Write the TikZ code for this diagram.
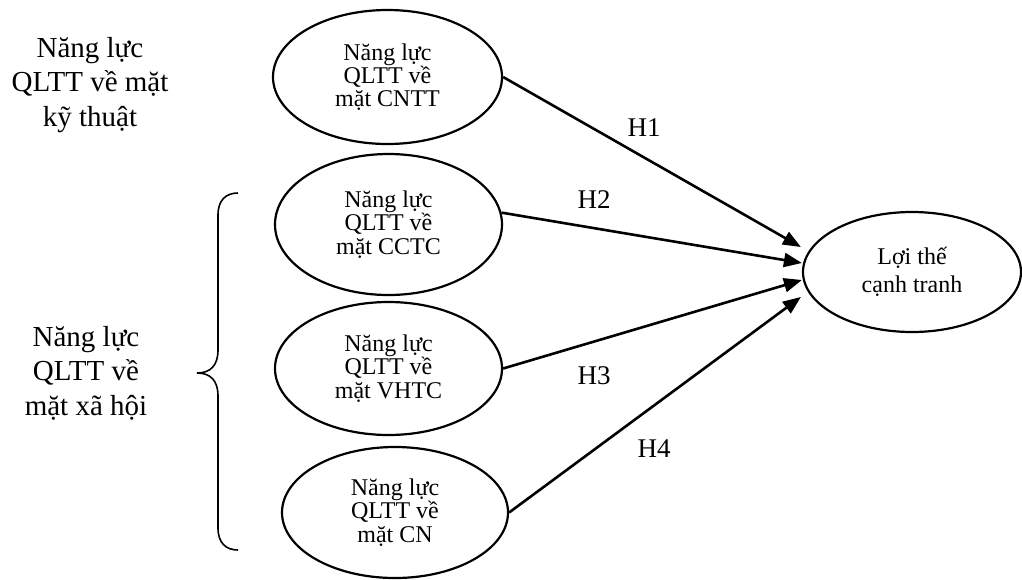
\documentclass[tikz,border=0pt]{standalone}
\usepackage{fontspec}
\setmainfont{Liberation Serif}
\usetikzlibrary{shapes.geometric,arrows.meta,calc}
\begin{document}
\begin{tikzpicture}[x=0.5pt,y=-0.5pt,
  ell/.style={draw,ellipse,line width=1.1pt,inner sep=0pt,align=center,font=\fontsize{12}{11.6}\selectfont},
  arr/.style={line width=1.3pt,-{Triangle[length=9pt,width=7pt]}},
  hlab/.style={font=\fontsize{13.5}{16}\selectfont,inner sep=0pt},
  side/.style={align=center,font=\fontsize{14.5}{17.25}\selectfont,inner sep=0pt}]
\useasboundingbox (0,0) rectangle (1022,579);

\node[ell,minimum width=114.5pt,minimum height=67pt] (E1) at (387.5,77) {Năng lực\\QLTT về\\mặt CNTT};
\node[ell,minimum width=113.5pt,minimum height=70.5pt] (E2) at (388.5,224.5) {Năng lực\\QLTT về\\mặt CCTC};
\node[ell,minimum width=113.5pt,minimum height=66.5pt] (E3) at (388.5,368.5) {Năng lực\\QLTT về\\mặt VHTC};
\node[ell,minimum width=113pt,minimum height=65.5pt] (E4) at (395,512.5) {Năng lực\\QLTT về\\mặt CN};
\node[ell,minimum width=109pt,minimum height=60pt,font=\fontsize{12}{13.8}\selectfont] (E5) at (912,272) {Lợi thế\\cạnh tranh};

\node[side] (L1) at (90,85) {Năng lực\\QLTT về mặt\\kỹ thuật};
\node[side] (L2) at (86,373) {Năng lực\\QLTT về\\mặt xã hội};

\coordinate (t1) at ($(E5.west)+(-1,-25)$);
\coordinate (t2) at ($(E5.west)+(0,-9)$);
\coordinate (t3) at ($(E5.west)+(0,8)$);
\coordinate (t4) at ($(E5.west)+(-1,25)$);

\draw[arr] (E1.east) -- (t1);
\draw[arr] (E2.6.5) -- (t2);
\draw[arr] (E3.east) -- (t3);
\draw[arr] (E4.east) -- (t4);

\node[hlab] (h1) at (644,128) {H1};
\node[hlab] (h2) at (594,200) {H2};
\node[hlab] (h3) at (594,376) {H3};
\node[hlab] (h4) at (654,449) {H4};

\draw[line width=0.8pt] (238,193) .. controls (226,193) and (218,200) .. (218,215)
  -- (218,350) .. controls (218,366) and (210,373) .. (197,373)
  .. controls (210,373) and (218,380) .. (218,396)
  -- (218,528) .. controls (218,543) and (226,550) .. (238,550);
\end{tikzpicture}
\end{document}
